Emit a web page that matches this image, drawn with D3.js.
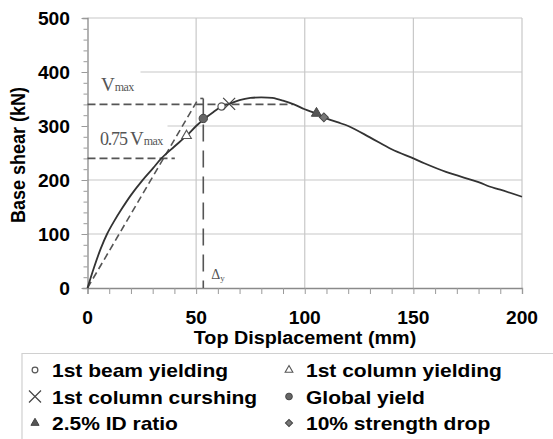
<!DOCTYPE html>
<html><head><meta charset="utf-8">
<script src="https://cdn.jsdelivr.net/npm/d3@7"></script>
<style>body{margin:0;background:#fff}svg{display:block}</style>
</head><body>
<svg id="c" width="553" height="439"></svg>
<script>
// ---- data ----
const curveX = [0,3,6,9,12,16,20,25,30,34,40,45.6,50,54,58,61.7,65.2,70,75,80,85,90,95,100,105.4,108.8,115,120,130,140,150,155,165,180,185,190,200];
const curveY = [0,38,72,100,122,148,172,198,221,240,262,282,300,314,326,336,341,348,352,353,352,347,340,331,323,316,307,300,279,257,240,231,215,196,188,182,169];
const xTicks = [0,50,100,150,200];
const yTicks = [0,100,200,300,400,500];
const xTitle = "Top Displacement (mm)";
const yTitle = "Base shear (kN)";
const vmax = 340, v75 = 240, vmaxEndX = 94.5, v75EndX = 40.2;
const secantEnd = [51, 350];
const deltaY = 53.3, deltaTop = 351;
const markerNames = ["1st beam yielding","1st column yielding","1st column curshing","Global yield","2.5% ID ratio","10% strength drop"];
const markerTypes = ["circleOpen","triOpen","cross","circleFill","triFill","diamond"];
const markerX = [61.7,45.6,65.2,53.3,105.4,108.8];
const markerY = [336,282,341,314,323.5,316];

// ---- layout ----
const svg = d3.select("#c");
const x = d3.scaleLinear().domain([0,200]).range([87.5,522]);
const y = d3.scaleLinear().domain([0,500]).range([288,18]);
const SX = 1.15;
function stext(g, px, py, str, size, anchor, sx) {
  return g.append("text").attr("transform", `translate(${px},${py}) scale(${sx||SX},1)`)
    .attr("text-anchor", anchor||"start").attr("font-family","Liberation Sans, Arial, sans-serif")
    .attr("font-weight","bold").attr("font-size",size).attr("fill","#000").text(str);
}

// gridlines
const grid = svg.append("g");
grid.selectAll(".gx").data(xTicks.filter(d=>d>0)).join("line")
  .attr("x1",d=>x(d)).attr("x2",d=>x(d)).attr("y1",y(0)).attr("y2",y(500))
  .attr("stroke","#c8c8c8").attr("stroke-width",1.2);
grid.selectAll(".gy").data(yTicks.filter(d=>d>0)).join("line")
  .attr("x1",x(0)).attr("x2",x(200)).attr("y1",d=>y(d)).attr("y2",d=>y(d))
  .attr("stroke","#c8c8c8").attr("stroke-width",1.2);

// white boxes behind labels (hide gridlines as in the reference)
svg.append("rect").attr("x",x(0)+1).attr("y",y(430)).attr("width",52).attr("height",34).attr("fill","#fff");
svg.append("rect").attr("x",x(0)+1).attr("y",y(315)).attr("width",79).attr("height",33).attr("fill","#fff");

// axes
const xAxis = svg.append("g").attr("transform",`translate(0,${y(0)})`)
  .call(d3.axisBottom(x).tickValues(d3.range(0,201,10)).tickSize(6).tickFormat(""));
const yAxis = svg.append("g").attr("transform",`translate(${x(0)},0)`)
  .call(d3.axisLeft(y).tickValues(d3.range(0,501,20)).tickSize(5).tickFormat(""));
[xAxis,yAxis].forEach(a=>{a.select(".domain").attr("stroke","#8a8a8a").attr("stroke-width",1.3);
  a.selectAll(".tick line").attr("stroke","#9a9a9a").attr("stroke-width",1);});
yAxis.selectAll(".tick line").attr("x2",d=>d%100===0?-6:-4);

// tick labels
xTicks.forEach(d=>stext(svg, x(d), 324, String(d), 17.5, "middle", 1.1));
yTicks.forEach(d=>stext(svg, 70, y(d)+6.5, String(d), 17.5, "end", 1.1));

// titles
stext(svg, 305, 344, xTitle, 17.5, "middle", 1.13);
svg.append("text").attr("transform",`translate(25,${(y(0)+y(500))/2+2}) rotate(-90) scale(1,${SX})`)
  .attr("text-anchor","middle").attr("font-family","Liberation Sans, Arial, sans-serif")
  .attr("font-weight","bold").attr("font-size",18).text(yTitle);

// reference dashed lines
const dash = svg.append("g").attr("stroke","#555").attr("stroke-width",1.6).attr("fill","none");
dash.append("line").attr("x1",x(0)).attr("x2",x(vmaxEndX)).attr("y1",y(vmax)).attr("y2",y(vmax)).attr("stroke-dasharray","8,4");
dash.append("line").attr("x1",x(0)).attr("x2",x(v75EndX)).attr("y1",y(v75)).attr("y2",y(v75)).attr("stroke-dasharray","8,4");
dash.append("line").attr("x1",x(0)).attr("y1",y(0)).attr("x2",x(secantEnd[0])).attr("y2",y(secantEnd[1])).attr("stroke-dasharray","7,4");
dash.append("line").attr("x1",x(deltaY)).attr("x2",x(deltaY)).attr("y1",y(deltaTop)).attr("y2",y(0)).attr("stroke-dasharray","17,9");
dash.append("line").attr("x1",x(deltaY)-3).attr("x2",x(deltaY)).attr("y1",y(deltaTop)).attr("y2",y(deltaTop));

// curve
svg.append("path").datum(curveX.map((d,i)=>[d,curveY[i]]))
  .attr("d", d3.line().x(d=>x(d[0])).y(d=>y(d[1])).curve(d3.curveCatmullRom.alpha(0.5)))
  .attr("fill","none").attr("stroke","#333").attr("stroke-width",1.8);

// labels
function serifLabel(px, py, pre) {
  const t = svg.append("text").attr("x",px).attr("y",py).attr("font-family","Liberation Serif, Times New Roman, serif").attr("fill","#555");
  if (pre) t.append("tspan").attr("font-size",18).attr("letter-spacing",-1.2).text(pre + " ");
  t.append("tspan").attr("font-size",19).text("V");
  t.append("tspan").attr("font-size",12).attr("letter-spacing",-0.6).text("max");
}
serifLabel(101, 91, null);
serifLabel(100, 145, "0.75");
const dl = svg.append("text").attr("x",x(deltaY)+8).attr("y",279).attr("font-family","Liberation Serif, Times New Roman, serif").attr("fill","#555");
dl.append("tspan").attr("font-size",14).text("Δ");
dl.append("tspan").attr("font-size",9).attr("dy",2).text("y");

// markers
function drawMarker(g, type, cx, cy, s) {
  s = s || 1;
  if (type==="circleOpen") g.append("circle").attr("cx",cx).attr("cy",cy).attr("r",3.6*s).attr("fill","#fff").attr("stroke","#555").attr("stroke-width",1.2);
  else if (type==="circleFill") g.append("circle").attr("cx",cx).attr("cy",cy).attr("r",4.2*s).attr("fill","#666").attr("stroke","#444").attr("stroke-width",1);
  else if (type==="triOpen") g.append("path").attr("d",d3.symbol(d3.symbolTriangle, 40*s*s)()).attr("transform",`translate(${cx},${cy})`).attr("fill","#fff").attr("stroke","#555").attr("stroke-width",1.1);
  else if (type==="triFill") g.append("path").attr("d",d3.symbol(d3.symbolTriangle, 45*s*s)()).attr("transform",`translate(${cx},${cy})`).attr("fill","#555").attr("stroke","#444").attr("stroke-width",1);
  else if (type==="diamond") g.append("path").attr("d",d3.symbol(d3.symbolSquare, 40*s*s)()).attr("transform",`translate(${cx},${cy}) rotate(45)`).attr("fill","#777").attr("stroke","#444").attr("stroke-width",1);
  else if (type==="cross") { const r = 6*s;
    g.append("path").attr("d",`M${cx-r},${cy-r}L${cx+r},${cy+r}M${cx-r},${cy+r}L${cx+r},${cy-r}`).attr("stroke","#444").attr("stroke-width",1.2); }
}
const mk = svg.append("g");
markerTypes.forEach((t,i)=>drawMarker(mk, t, x(markerX[i]), y(markerY[i])));

// legend
svg.append("path").attr("d","M22,445L22,353.5L560,353.5").attr("fill","none").attr("stroke","#d0d0d0").attr("stroke-width",1.2);
const lg = svg.append("g");
const legCols = [35, 289], legRows = [370, 396.5, 423];
markerNames.forEach((n,i)=>{
  const c = i%2, r = Math.floor(i/2);
  const s = markerTypes[i]==="cross" ? 1 : 0.8;
  drawMarker(lg, markerTypes[i], legCols[c], legRows[r], s);
  stext(lg, legCols[c]+17, legRows[r]+7, n, 17.5, "start", 1.2);
});
</script>
</body></html>
